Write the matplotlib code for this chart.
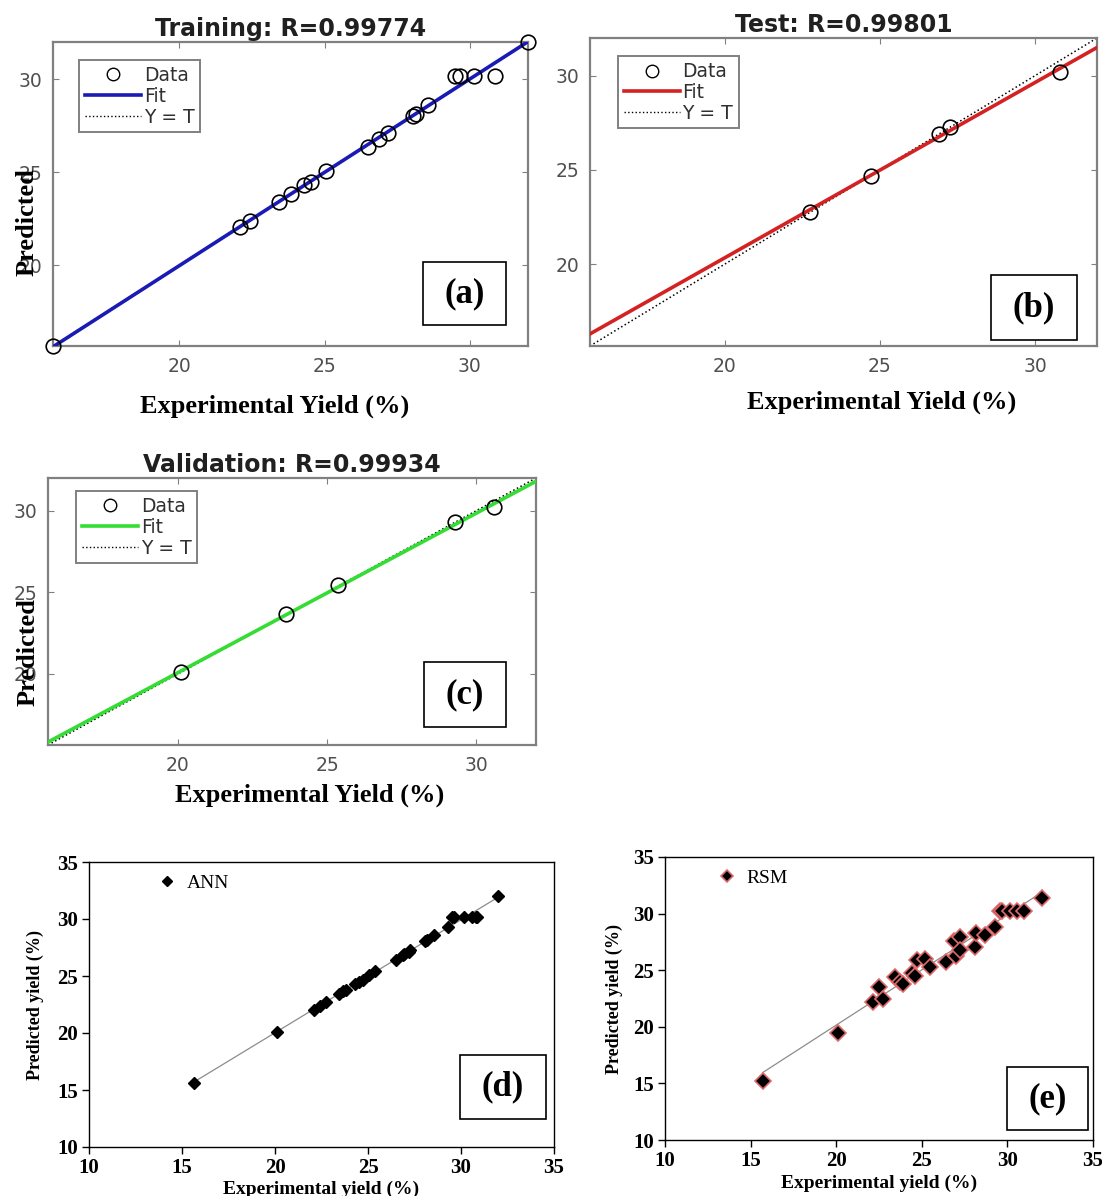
import matplotlib.pyplot as plt
import numpy as np
from matplotlib.patches import Rectangle
from matplotlib.lines import Line2D

# training / test / validation sets of the network (experimental, predicted)
train_exp = [15.65, 22.07, 22.44, 23.43, 23.84, 24.29, 24.54, 25.03, 26.48, 26.88,
             27.19, 28.05, 28.15, 28.55, 29.50, 29.65, 30.15, 30.88, 32.00]
train_pred = [15.65, 22.03, 22.36, 23.40, 23.80, 24.30, 24.46, 25.06, 26.37, 26.80,
              27.13, 28.03, 28.12, 28.60, 30.15, 30.15, 30.15, 30.15, 32.00]
test_exp = [22.73, 24.71, 26.92, 27.25, 30.81]
test_pred = [22.74, 24.69, 26.90, 27.29, 30.21]
val_exp = [20.10, 23.64, 25.38, 29.28, 30.58]
val_pred = [20.10, 23.65, 25.42, 29.33, 30.20]

# RSM model predictions
rsm_exp = [15.71, 20.08, 22.15, 22.48, 22.73, 23.42, 23.71, 23.90, 24.43, 24.59,
           24.72, 25.21, 25.46, 26.44, 26.87, 26.97, 27.22, 27.26, 28.08, 28.19,
           28.68, 29.30, 29.56, 29.70, 30.14, 30.57, 30.96, 32.03]
rsm_pred = [15.24, 19.47, 22.18, 23.53, 22.47, 24.38, 23.94, 23.74, 24.76, 24.47,
            25.94, 26.03, 25.32, 25.71, 27.56, 26.24, 27.94, 26.76, 27.06, 28.29,
            28.15, 28.79, 30.26, 30.26, 30.26, 30.26, 30.26, 31.38]

# ANN = all three sets together
ann_exp = train_exp + test_exp + val_exp
ann_pred = train_pred + test_pred + val_pred

lim = (15.65, 32.0)
W, H = 1102, 1196
fig = plt.figure(figsize=(W / 100, H / 100), dpi=100)


def box(l, t, r, b):
    return [l / W, 1 - b / H, (r - l) / W, (b - t) / H]


def tag(ax, s, x0, y0, x1, y1):
    ax.add_patch(Rectangle((x0, y0), x1 - x0, y1 - y0, transform=ax.transAxes,
                           fill=False, ec='black', lw=1.2, zorder=6, clip_on=False))
    ax.text((x0 + x1) / 2, (y0 + y1) / 2, s, transform=ax.transAxes, ha='center',
            va='center', fontsize=25, fontweight='bold', family='Liberation Serif', zorder=7)


def matlab_panel(rect, xs, ys, color, title, legpos, tagpos, s):
    ax = fig.add_axes(box(*rect))
    ax.set_xlim(lim)
    ax.set_ylim(lim)
    p = np.polyfit(xs, ys, 1)
    xx = np.array(lim)
    ax.plot(xx, xx, ':', color='black', lw=1.1, zorder=2)
    ax.plot(xx, np.polyval(p, xx), '-', color=color, lw=2.6, zorder=3)
    ax.plot(xs, ys, 'o', mfc='none', mec='black', ms=10.5, mew=1.2, zorder=4, clip_on=False)
    ax.set_xticks([20, 25, 30])
    ax.set_yticks([20, 25, 30])
    ax.tick_params(direction='in', length=4, top=True, right=True, color='#808080',
                   labelcolor='#505050', labelsize=13.5, pad=8)
    for sp in ax.spines.values():
        sp.set_color('#808080')
        sp.set_linewidth(1.6)
    ax.set_title(title, fontsize=17, fontweight='bold', color='#202020', pad=4)
    handles = [Line2D([], [], ls='none', marker='o', mfc='none', mec='black', ms=9),
               Line2D([], [], color=color, lw=2.6),
               Line2D([], [], color='black', ls=':', lw=1)]
    leg = ax.legend(handles, ['Data', 'Fit', 'Y = T'], loc='upper left',
                    bbox_to_anchor=legpos, borderaxespad=0, fancybox=False,
                    edgecolor='#808080', fontsize=13.5, handlelength=3.0,
                    handletextpad=0.15, labelspacing=0.1, borderpad=0.3, framealpha=1)
    leg.get_frame().set_linewidth(1.4)
    for t in leg.get_texts():
        t.set_color('#303030')
    tag(ax, s, *tagpos)
    return ax


matlab_panel((53, 42, 528, 346), train_exp, train_pred, '#1a1ab4',
             'Training: R=0.99774', (0.055, 0.94), (0.779, 0.069, 0.954, 0.276), '(a)')
matlab_panel((590, 38, 1097, 346), test_exp, test_pred, '#d42222',
             'Test: R=0.99801', (0.055, 0.94), (0.791, 0.019, 0.961, 0.231), '(b)')
matlab_panel((48, 478, 536, 745), val_exp, val_pred, '#33dd33',
             'Validation: R=0.99934', (0.058, 0.95), (0.770, 0.067, 0.939, 0.311), '(c)')

serif_b = dict(family='Liberation Serif', fontweight='bold')
fig.text(27 / W, 1 - 222 / H, 'Predicted', rotation=90, ha='center', va='center', fontsize=19, **serif_b)
fig.text(28 / W, 1 - 652 / H, 'Predicted', rotation=90, ha='center', va='center', fontsize=19, **serif_b)
fig.text(275 / W, 1 - 406 / H, 'Experimental Yield (%)', ha='center', va='center', fontsize=19, **serif_b)
fig.text(882 / W, 1 - 402 / H, 'Experimental Yield (%)', ha='center', va='center', fontsize=19, **serif_b)
fig.text(310 / W, 1 - 795 / H, 'Experimental Yield (%)', ha='center', va='center', fontsize=19, **serif_b)


def excel_panel(rect, xs, ys, name, mkw, legx, tagpos, s, xlab_y, ylab_x):
    ax = fig.add_axes(box(*rect))
    ax.set_xlim(10, 35)
    ax.set_ylim(10, 35)
    p = np.polyfit(xs, ys, 1)
    xx = np.array([min(xs), max(xs)])
    ax.plot(xx, np.polyval(p, xx), '-', color='#8c8c8c', lw=0.9, zorder=2)
    ax.plot(xs, ys, 'D', ls='none', label=name, zorder=3, **mkw)
    ax.set_xticks(np.arange(10, 36, 5))
    ax.set_yticks(np.arange(10, 36, 5))
    ax.tick_params(direction='out', length=5, width=1, labelsize=15, pad=3)
    for t in ax.get_xticklabels() + ax.get_yticklabels():
        t.set_family('Liberation Serif')
        t.set_fontweight('bold')
    for sp in ax.spines.values():
        sp.set_linewidth(1.0)
    ax.legend(loc='upper left', bbox_to_anchor=(legx, 0.985), frameon=False,
              prop={'family': 'Liberation Serif', 'size': 14}, handlelength=1,
              handletextpad=0.5, borderaxespad=0, markerscale=0.75)
    tag(ax, s, *tagpos)
    cx = (rect[0] + rect[2]) / 2
    cy = (rect[1] + rect[3]) / 2
    fig.text(cx / W, 1 - xlab_y / H, 'Experimental yield (%)', ha='center', va='center',
             fontsize=14, **serif_b)
    fig.text(ylab_x / W, 1 - cy / H, 'Predicted yield (%)', rotation=90, ha='center',
             va='center', fontsize=13, **serif_b)


excel_panel((89, 862, 554, 1147), ann_exp, ann_pred, 'ANN',
            dict(color='black', ms=6.5), 0.13, (0.798, 0.098, 0.983, 0.323), '(d)', 1189, 35)
excel_panel((665, 857, 1093, 1140), rsm_exp, rsm_pred, 'RSM',
            dict(mfc='black', mec='#e06a6a', ms=8, mew=1.2), 0.105,
            (0.799, 0.035, 0.988, 0.258), '(e)', 1183, 614)

fig.savefig('out.png', dpi=100)
